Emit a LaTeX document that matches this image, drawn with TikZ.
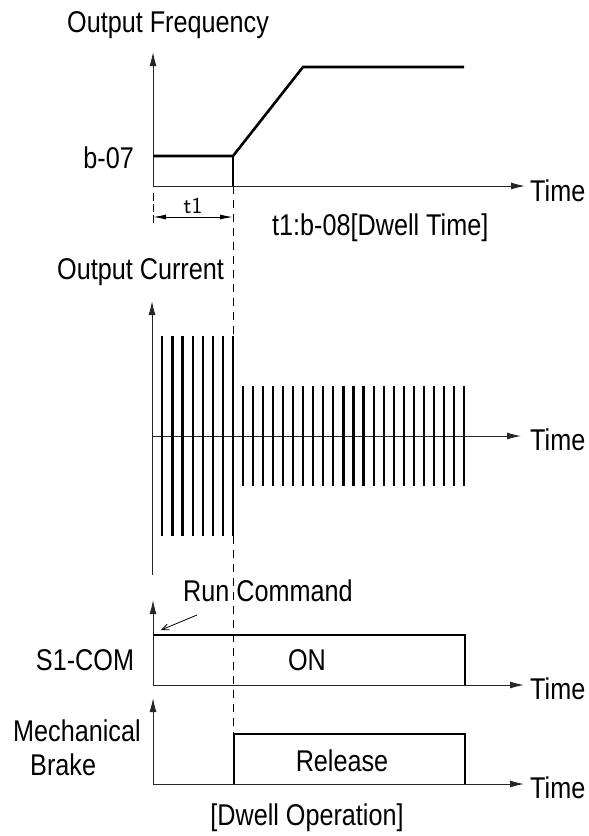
\documentclass[tikz,border=0pt]{standalone}
\usepackage{fontspec}
\setmainfont{Liberation Sans}[FakeStretch=0.84]
\usetikzlibrary{arrows.meta}
\begin{document}
\begin{tikzpicture}[x=1pt,y=-1pt,
  axis/.style={line width=1pt,draw=black!85,-{Latex[length=14pt,width=7pt]}},
  sig/.style={line width=2.6pt,line join=miter,line cap=butt},
  barline/.style={line width=2.2pt},
  lbl/.style={font=\fontsize{30}{32}\selectfont,inner sep=0pt},
  dashline/.style={line width=1pt,dash pattern=on 8pt off 6pt},
  dimline/.style={line width=1pt,{Latex[length=13pt,width=5pt]}-{Latex[length=13pt,width=5pt]}}]
\useasboundingbox (0,0) rectangle (589,836);

% ---------- Output Frequency ----------
\coordinate (fO) at (153,186);
\coordinate (fY) at (153,52);
\coordinate (fX) at (525,186);
\coordinate (f1) at (153,156);
\coordinate (f2) at (233,156);
\coordinate (f3) at (303,67);
\coordinate (f4) at (464,67);
\coordinate (f5) at (233,186);
\draw[axis] (fO) -- (fY);
\draw[axis] (fO) -- (fX);
\draw[sig] (f1) -- (f2) -- (f3) -- (f4);
\draw[sig] (f2) -- (f5);
\node[lbl,anchor=base west] (freq) at (67,32.5) {Output Frequency};
\node[lbl,anchor=east] (b07) at (134,158) {b-07};
\node[lbl,anchor=west] (tm1) at (530,191) {Time};

% dwell dashed line
\coordinate (dA) at (233,186);
\coordinate (dB) at (233,734);
\draw[dashline] (dA) -- (dB);

% t1 dimension
\coordinate (tk1) at (153,193);
\coordinate (tk2) at (153,223);
\coordinate (dm1) at (153,217);
\coordinate (dm2) at (233,217);
\draw[line width=0.8pt,dash pattern=on 8pt off 3pt] (tk1) -- (tk2);
\draw[dimline] (dm1) -- node[above=3pt,inner sep=0pt,font=\fontsize{23}{23}\sffamily] (t1) {t1} (dm2);
\node[lbl,anchor=base west] (dwt) at (272,235) {t1:b-08[Dwell Time]};

% ---------- Output Current ----------
\node[lbl,anchor=base west] (cur) at (57,279.5) {Output Current};
\coordinate (cO) at (152,436);
\coordinate (cY) at (152,301);
\coordinate (cB) at (152,575);
\coordinate (cX) at (521,436);
\draw[axis] (cB) -- (cY);
\draw[axis] (cO) -- (cX);
\foreach \i in {0,...,7}{
  \draw[barline] (162.3+\i*10.14,336) -- (162.3+\i*10.14,536);
}
\foreach \i in {0,...,22}{
  \draw[barline] (242.7+\i*10.07,386) -- (242.7+\i*10.07,486);
}
\node[lbl,anchor=west] (tm2) at (530,440) {Time};

% ---------- S1-COM ----------
\coordinate (sO) at (153,685);
\coordinate (sY) at (153,600);
\coordinate (sX) at (524,685);
\coordinate (s1) at (153,635);
\coordinate (s2) at (465,635);
\coordinate (s3) at (465,685);
\draw[axis] (sO) -- (sY);
\draw[axis] (sO) -- (sX);
\draw[sig] (s1) -- (s2) -- (s3);
\node[lbl] (s1com) at (85,660) {S1-COM};
\node[lbl] (on) at (307,660) {ON};
\node[lbl,anchor=west] (tm3) at (530,689) {Time};
\node[lbl,anchor=west] (run) at (183,591) {Run Command};
\coordinate (ra) at (197,615);
\coordinate (rb) at (161,630);
\draw[line width=0.8pt,-{Straight Barb[length=7pt,width=6pt]}] (ra) -- (rb);

% ---------- Mechanical Brake ----------
\coordinate (mO) at (153,784);
\coordinate (mY) at (153,698);
\coordinate (mX) at (524,784);
\coordinate (m1) at (234,784);
\coordinate (m2) at (234,734);
\coordinate (m3) at (465,734);
\coordinate (m4) at (465,784);
\draw[axis] (mO) -- (mY);
\draw[axis] (mO) -- (mX);
\draw[sig] (m1) -- (m2) -- (m3) -- (m4);
\node[lbl,anchor=west] (mech) at (13,731) {Mechanical};
\node[lbl,anchor=west] (brake) at (30,765) {Brake};
\node[lbl] (rel) at (342,761) {Release};
\node[lbl,anchor=west] (tm4) at (530,788) {Time};
\node[lbl] (dop) at (307,818) {[Dwell Operation]};
\end{tikzpicture}
\end{document}
